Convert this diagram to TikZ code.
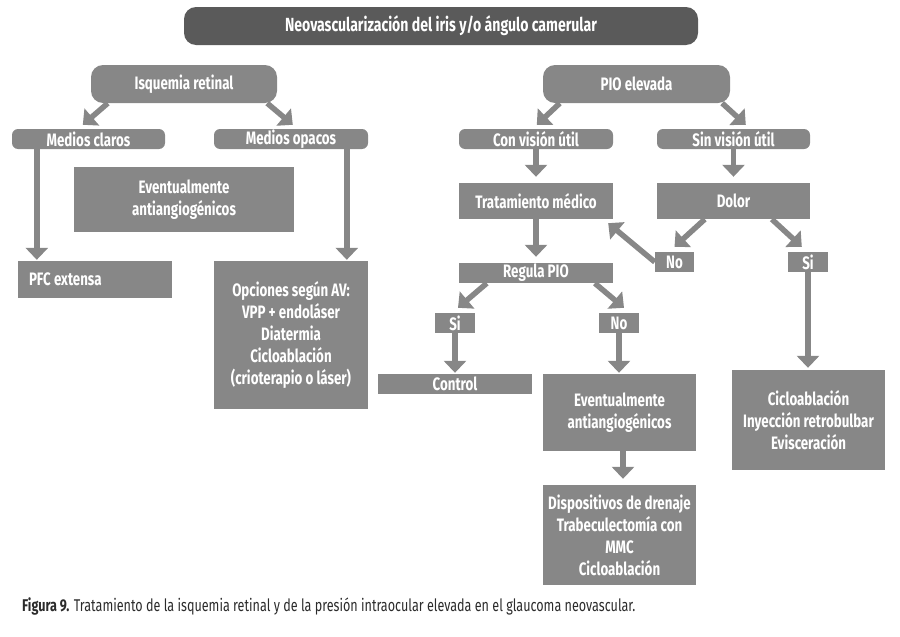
\documentclass[tikz,border=0pt]{standalone}
\usepackage{fontspec}
\setmainfont{Fira Sans}[FakeStretch=0.74]
\usetikzlibrary{arrows.meta}
\definecolor{boxgray}{HTML}{878787}
\definecolor{titlegray}{HTML}{5A5A5A}
\definecolor{captext}{HTML}{2B2B2B}
\tikzset{
  box/.style={fill=boxgray, text=white, font=\bfseries\fontsize{18}{22}\selectfont,
    align=center, inner sep=0pt, anchor=center},
  pill/.style={box, rounded corners=12pt},
  tab/.style={box, rounded corners=6pt},
  arr/.style={draw=boxgray, line width=5.5pt,
    -{Triangle[width=22pt,length=12pt]}},
}
\begin{document}
\begin{tikzpicture}[x=1pt,y=-1pt]
\path[use as bounding box] (0,0) rectangle (900,637);

% title
\node[pill, fill=titlegray, minimum width=514pt, minimum height=38pt,
  font=\bfseries\fontsize{19}{22}\selectfont] (title) at (441,26)
  {Neovascularización del iris y/o ángulo camerular};

% left branch
\node[pill, minimum width=186pt, minimum height=38pt] (isq) at (184,84) {Isquemia retinal};
\node[tab, minimum width=153pt, minimum height=20pt] (mclaros) at (88.5,139) {Medios claros};
\node[tab, minimum width=154pt, minimum height=20pt] (mopacos) at (291,139) {Medios opacos};
\node[box, minimum width=220pt, minimum height=65pt] (evL) at (184,199.5) {Eventualmente\\antiangiogénicos};
\node[box, text width=132pt, inner xsep=11pt, align=flush left, minimum height=37pt] (pfc) at (95,279.5) {PFC extensa};
\node[box, minimum width=154pt, minimum height=148pt] (opc) at (291,335)
  {Opciones según AV:\\VPP + endoláser\\Diatermia\\Cicloablación\\(crioterapio o láser)};

% right branch
\node[pill, minimum width=187pt, minimum height=38pt] (pio) at (636.5,84) {PIO elevada};
\node[tab, minimum width=154pt, minimum height=20pt] (con) at (536,139) {Con visión útil};
\node[tab, minimum width=153pt, minimum height=20pt] (sin) at (733.5,139) {Sin visión útil};
\node[box, minimum width=154pt, minimum height=36pt] (trat) at (536,201) {Tratamiento médico};
\node[box, minimum width=153pt, minimum height=36pt] (dolor) at (733.5,201) {Dolor};
\node[box, minimum width=154pt, minimum height=20pt] (regula) at (536,273) {Regula PIO};
\node[box, minimum width=39pt, minimum height=20pt] (noA) at (674.5,262) {No};
\node[box, minimum width=40pt, minimum height=20pt] (siA) at (808,262) {Si};
\node[box, minimum width=40pt, minimum height=20pt] (siB) at (455,323) {Si};
\node[box, minimum width=40pt, minimum height=20pt] (noB) at (619,323) {No};
\node[box, minimum width=154pt, minimum height=20pt] (control) at (455,384) {Control};
\node[box, minimum width=153pt, minimum height=77pt] (evR) at (619.5,412.5) {Eventualmente\\antiangiogénicos};
\node[box, minimum width=153pt, minimum height=100pt] (disp) at (619.5,535)
  {Dispositivos de drenaje\\Trabeculectomía con\\MMC\\Cicloablación};
\node[box, minimum width=153pt, minimum height=100pt] (ciclo) at (808.5,420)
  {Cicloablación\\Inyección retrobulbar\\Evisceración};

% caption
\node[anchor=west, inner sep=0pt, text=captext, font=\fontsize{17}{19}\selectfont] (cap) at (22,606)
  {\textbf{Figura 9.} Tratamiento de la isquemia retinal y de la presión intraocular elevada en el glaucoma neovascular.};

% arrows left
\draw[arr] ([xshift=17pt]isq.south west) -- ([xshift=71pt,yshift=4pt]mclaros.north west);
\draw[arr] ([xshift=-10pt]isq.south east) -- ([xshift=79pt,yshift=4pt]mopacos.north west);
\draw[arr] ([xshift=25pt]mclaros.south west) -- ([xshift=19pt,yshift=1pt]pfc.north west);
\draw[arr] ([xshift=133pt]mopacos.south west) -- ([xshift=133pt,yshift=1pt]opc.north west);

% arrows right
\draw[arr] ([xshift=17pt]pio.south west) -- ([xshift=78pt,yshift=4pt]con.north west);
\draw[arr] ([xshift=-8pt]pio.south east) -- ([xshift=89pt,yshift=4pt]sin.north west);
\draw[arr] (con.south) -- ([yshift=6pt]trat.north);
\draw[arr] (sin.south) -- ([yshift=6pt]dolor.north);
\draw[arr] (trat.south) -- ([yshift=6pt]regula.north);
\draw[arr] (noA.west) -- ([xshift=-5pt,yshift=-4pt]trat.south east);
\draw[arr] ([xshift=48pt]dolor.south west) -- ([yshift=5pt]noA.north);
\draw[arr] ([xshift=115pt]dolor.south west) -- ([xshift=14pt,yshift=5pt]siA.north west);
\draw[arr] (siA.south) -- ([yshift=2pt]ciclo.north -| siA.south);
\draw[arr] ([xshift=28pt]regula.south west) -- ([xshift=3pt,yshift=5pt]siB.north);
\draw[arr] ([xshift=136pt]regula.south west) -- ([xshift=5pt,yshift=5pt]noB.north);
\draw[arr] (siB.south) -- ([yshift=1pt]control.north);
\draw[arr] (noB.south) -- ([yshift=1pt]evR.north -| noB.south);
\draw[arr] ([xshift=3.5pt]evR.south) -- ([xshift=3.5pt,yshift=6pt]disp.north);
\end{tikzpicture}
\end{document}
